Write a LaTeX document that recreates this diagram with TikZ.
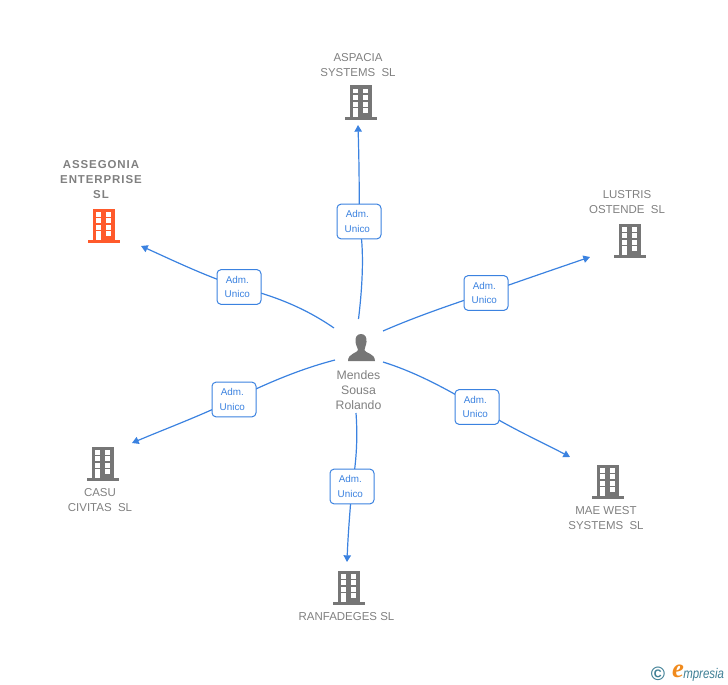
\documentclass[tikz,border=0pt]{standalone}
\usepackage{fontspec}
\setmainfont{Liberation Sans}
\newfontfamily\spacedbold[LetterSpace=8,BoldFont={Liberation Sans Bold}]{Liberation Sans}
\newfontfamily\logoserif{Liberation Serif}
\usetikzlibrary{arrows.meta,backgrounds}
\definecolor{iconGray}{HTML}{767676}
\definecolor{labelGray}{HTML}{808080}
\definecolor{linkBlue}{HTML}{3B82E0}
\definecolor{mainOrange}{HTML}{FF5A2B}
\definecolor{logoTeal}{HTML}{3F7F95}
\definecolor{logoOrange}{HTML}{F08A1D}
\newcommand{\admu}{Adm.\hspace*{2.5pt}\\Unico\hspace*{2.5pt}}
\tikzset{
  x=0.75pt,y=-0.75pt,
  conn/.style={draw=linkBlue,line width=0.9pt},
  connarrow/.style={conn,-{Triangle[length=5pt,width=5.5pt]}},
  badge/.style={draw=linkBlue,fill=white,rounded corners=3pt,line width=0.75pt,minimum width=33pt,minimum height=26pt,inner sep=0pt,align=center,text=linkBlue,font=\fontsize{7.4pt}{11.2pt}\selectfont},
  lab/.style={align=center,text=labelGray,inner sep=0pt,font=\fontsize{8.6pt}{11.25pt}\selectfont},
  mainlab/.style={align=center,text=labelGray,inner sep=0pt,font=\spacedbold\bfseries\fontsize{8.6pt}{11.25pt}\selectfont},
  pics/bldg/.style={code={
    \fill[#1] (-10.5,-16.5) rectangle (11.5,14.5);
    \fill[#1] (-15.5,14.5) rectangle (16.5,17.5);
    \foreach \yy in {-13.3,-6.8,-0.3}{
      \fill[white] (-7.3,\yy) rectangle (-2.5,{\yy+4.8});
      \fill[white] (2.7,\yy) rectangle (7.5,{\yy+4.8});
    }
    \fill[white] (-7.3,6.2) rectangle (-2.5,14.5);
    \fill[white] (2.7,6.2) rectangle (7.5,11);
  }}
}
\begin{document}
\begin{tikzpicture}
\useasboundingbox (0,0) rectangle (728,685);

% person
\node[inner sep=0pt,minimum size=2pt] (person) at (361,348) {};
\fill[iconGray] (361,334) .. controls (365.5,334) and (367,338) .. (366.5,342)
  .. controls (366,346) and (364.5,348) .. (364.5,350)
  .. controls (364.5,353) and (375,353) .. (375,361) -- (348,361)
  .. controls (348,353) and (358,353) .. (358,350)
  .. controls (358,348) and (356,346) .. (355.5,342)
  .. controls (355,338) and (356.5,334) .. (361,334) -- cycle;
\node[lab,font=\fontsize{9.2pt}{11.25pt}\selectfont] (personlab) at (358.5,390) {Mendes\\Sousa\\Rolando};

% companies
\pic at (360,102) {bldg=iconGray};
\node[lab] (n1) at (358,65) {ASPACIA\\SYSTEMS\ \ SL};
\pic at (103,225) {bldg=mainOrange};
\node[mainlab] (n2) at (101,179.5) {ASSEGONIA\\ENTERPRISE\\SL};
\pic at (629,240) {bldg=iconGray};
\node[lab] (n3) at (627,202) {LUSTRIS\\OSTENDE\ \ SL};
\pic at (607,481) {bldg=iconGray};
\node[lab] (n4) at (606,518) {MAE WEST\\SYSTEMS\ \ SL};
\pic at (348,587) {bldg=iconGray};
\node[lab] (n5) at (346.5,617) {RANFADEGES SL};
\pic at (102,463) {bldg=iconGray};
\node[lab] (n6) at (100,500) {CASU\\CIVITAS\ \ SL};

% badges
\node[badge] (b1) at (359,221.5) {\admu};
\node[badge] (b2) at (239,287) {\admu};
\node[badge] (b3) at (486,293) {\admu};
\node[badge] (b4) at (477,407) {\admu};
\node[badge] (b5) at (352,486.5) {\admu};
\node[badge] (b6) at (234,399.5) {\admu};

% free connector ends
\coordinate (s1) at (358.5,319); \coordinate (t1) at (358,125);
\coordinate (s2) at (334,328);   \coordinate (t2) at (141,246);
\coordinate (s3) at (383,331);   \coordinate (t3) at (590,257);
\coordinate (s4) at (383,362);   \coordinate (t4) at (570,457);
\coordinate (s5) at (356,413);   \coordinate (t5) at (347,562);
\coordinate (s6) at (335,360);   \coordinate (t6) at (132,443);

\begin{scope}[on background layer]
\draw[conn] (s1) .. controls (362,290) and (365,250) .. (b1.center);
\draw[connarrow] (b1.center) .. controls (359.5,190) and (359,160) .. (t1);
\draw[conn] (s2) .. controls (305,308) and (275,296) .. (b2.center);
\draw[connarrow] (b2.center) .. controls (205,276) and (170,259) .. (t2);
\draw[conn] (s3) .. controls (415,317) and (450,305) .. (b3.center);
\draw[connarrow] (b3.center) .. controls (520,281) and (555,269) .. (t3);
\draw[conn] (s4) .. controls (415,372) and (445,388) .. (b4.center);
\draw[connarrow] (b4.center) .. controls (510,428) and (540,441) .. (t4);
\draw[conn] (s5) .. controls (358,440) and (356,465) .. (b5.center);
\draw[connarrow] (b5.center) .. controls (350,510) and (348,535) .. (t5);
\draw[conn] (s6) .. controls (300,369) and (265,384) .. (b6.center);
\draw[connarrow] (b6.center) .. controls (200,416) and (165,429) .. (t6);
\end{scope}

% logo
\node[inner sep=0pt,text=logoTeal,font=\bfseries\fontsize{14.5pt}{14.5pt}\selectfont] (logoc) at (658,674) {©};
\node[inner sep=0pt,text=logoOrange,font=\logoserif\bfseries\itshape\fontsize{20pt}{20pt}\selectfont] (logoe) at (678,671) {e};
\node[inner sep=0pt,anchor=base west,text=logoTeal,font=\itshape\fontsize{10.5pt}{10.5pt}\selectfont] (logot) at (683,678) {\scalebox{0.82}[1]{mpresia}};
\end{tikzpicture}
\end{document}
